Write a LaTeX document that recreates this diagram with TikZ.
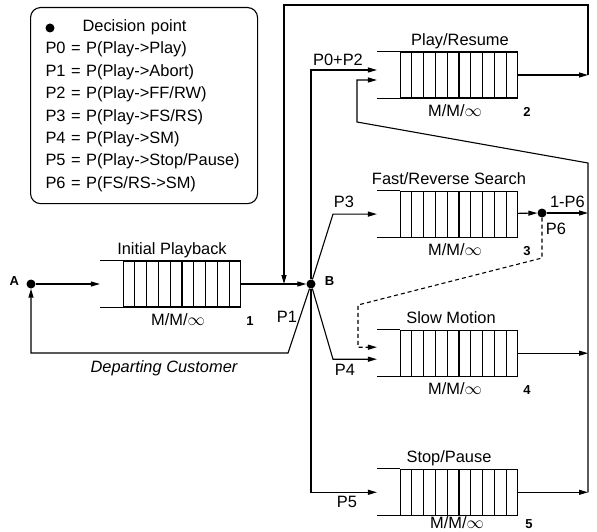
\documentclass[tikz,border=0pt]{standalone}
\usepackage{fontspec}
\setmainfont{Liberation Sans}
\usetikzlibrary{arrows.meta,positioning,calc}
\tikzset{queuebox/.style={draw,line width=1.1pt,minimum width=117pt,minimum height=46pt,inner sep=0pt},
 decpt/.style={circle,fill,inner sep=0pt,minimum size=9pt},
 flowarrow/.style={-{Triangle[length=9pt,width=5pt]},line width=1.1pt},
 lbl/.style={font=\fontsize{16.4}{20}\selectfont,inner sep=0pt},
 qtitle/.style={lbl,anchor=base},
 qnum/.style={font=\bfseries\fontsize{13}{15}\selectfont,inner sep=0pt,anchor=base},
 legendbox/.style={draw,line width=1.1pt,rounded corners=10pt,align=left,text width=197pt,
 inner xsep=15pt,inner ysep=12pt,font=\fontsize{16.4}{22.4}\selectfont}}
\begin{document}
\begin{tikzpicture}[x=1pt,y=-1pt,node distance=92pt]
\useasboundingbox (0,0) rectangle (597,532);
\node[legendbox,anchor=north west] (legend) at (30,7) {\hspace*{37pt}Decision point\\
 P0 = P(Play->Play)\\ P1 = P(Play->Abort)\\ P2 = P(Play->FF/RW)\\ P3 = P(Play->FS/RS)\\
 P4 = P(Play->SM)\\ P5 = P(Play->Stop/Pause)\\ P6 = P(FS/RS->SM)};
\node[decpt] (key) at (50,28) {};
\node[queuebox] (q1) at (182,284) {};
\node[queuebox] (q2) at (459,75) {};
\node[queuebox,below=of q2] (q3) {};
\node[queuebox,below=of q3] (q4) {};
\node[queuebox,below=of q4] (q5) {};
\foreach \q in {q1,q2,q3,q4,q5}{
 \foreach \i in {1,...,9}
  \draw[line width=1.1pt] ($(\q.south west)!\i/10!(\q.south east)$) -- ($(\q.north west)!\i/10!(\q.north east)$);
 \draw[line width=1.1pt] (\q.north west) -- ++(-23pt,0) (\q.south west) -- ++(-23pt,0);
}
\node[qtitle] (t1) at ([xshift=-10pt,yshift=6pt]q1.north) {Initial Playback};
\node[qtitle] (t2) at ([xshift=1pt,yshift=6pt]q2.north) {Play/Resume};
\node[qtitle] (t3) at ([xshift=-10pt,yshift=6pt]q3.north) {Fast/Reverse Search};
\node[qtitle] (t4) at ([xshift=-8pt,yshift=6pt]q4.north) {Slow Motion};
\node[qtitle] (t5) at ([xshift=-10pt,yshift=6pt]q5.north) {Stop/Pause};
\node[qtitle] (m1) at ([xshift=-4pt,yshift=-18pt]q1.south) {M/M/$\infty$};
\node[qtitle] (m2) at ([xshift=-4pt,yshift=-18pt]q2.south) {M/M/$\infty$};
\node[qtitle] (m3) at ([xshift=-4pt,yshift=-18pt]q3.south) {M/M/$\infty$};
\node[qtitle] (m4) at ([xshift=-4pt,yshift=-18pt]q4.south) {M/M/$\infty$};
\node[qtitle] (m5) at ([xshift=-2pt,yshift=-13pt]q5.south) {M/M/$\infty$};
\node[qnum] (n1) at ([xshift=9pt,yshift=-18pt]q1.south east) {1};
\node[qnum] (n2) at ([xshift=9pt,yshift=-18pt]q2.south east) {2};
\node[qnum] (n3) at ([xshift=9pt,yshift=-18pt]q3.south east) {3};
\node[qnum] (n4) at ([xshift=9pt,yshift=-18pt]q4.south east) {4};
\node[qnum] (n5) at ([xshift=11pt,yshift=-13pt]q5.south east) {5};
\node[decpt] (A) at (31,284) {};
\node[decpt] (B) at (311,284) {};
\node[decpt] (C) at (542,213) {};
\node[qnum,anchor=center,left=7pt of A,yshift=3pt] (lA) {A};
\node[qnum,anchor=center,right=9pt of B,yshift=3pt] (lB) {B};
\coordinate (q1in) at ([xshift=-23pt]q1.west);
\coordinate (q2inA) at ([xshift=-23pt,yshift=5pt]q2.west);
\coordinate (q2inB) at ([xshift=-23pt,yshift=-5pt]q2.west);
\coordinate (q3in) at ([xshift=-23pt]q3.west);
\coordinate (q4inA) at ([xshift=-23pt,yshift=6pt]q4.west);
\coordinate (q4inB) at ([xshift=-23pt,yshift=-6pt]q4.west);
\coordinate (q5in) at ([xshift=-23pt]q5.west);
\coordinate (topR) at (588,5);
\coordinate (topL) at (284,5);
\coordinate (busR) at (588,163);
\coordinate (busL) at (357,122);
\coordinate (pk) at (333,0);
\coordinate (p1k) at (288,353);
\coordinate (c1) at (542,258);
\coordinate (c2) at (358,305);
\draw[flowarrow] (A) -- (q1in);
\draw[flowarrow] (q1) -- (B);
\draw[flowarrow] (B) |- (q2inA);
\draw[flowarrow] (B) -- (pk |- q3in) -- (q3in);
\draw[flowarrow] (B) -- (pk |- q4inB) -- (q4inB);
\draw[flowarrow] (B) |- (q5in);
\draw[flowarrow] (B) -- (p1k) -| (A);
\draw[flowarrow] (q2) -- (q2.east -| topR);
\draw[flowarrow] (q2.east -| topR) -- (topR) -- (topL) -- (topL |- B);
\draw[flowarrow] (q3) -- (C);
\draw[flowarrow] (C) -- (C -| topR) node[lbl,midway,above=5pt] (l16) {1-P6};
\draw[flowarrow,dash pattern=on 4pt off 3pt] (C) -- (c1) -- (c2) |- (q4inA);
\draw[flowarrow] (q4) -- (q4.east -| topR);
\draw[flowarrow] (q5) -- (q5.east -| topR);
\draw[flowarrow] (q5.east -| topR) -- (busR) -- (busL) |- (q2inB);
\node[lbl] (lP02) at (338,60) {P0+P2};
\node[lbl] (lP3) at (344,202) {P3};
\node[lbl] (lP4) at (345,370) {P4};
\node[lbl] (lP5) at (347,502) {P5};
\node[lbl] (lP1) at (287,317) {P1};
\node[lbl] (lP6) at (556,229) {P6};
\node[lbl,font=\itshape\fontsize{16.4}{20}\selectfont] (dep) at (164,368) {Departing Customer};
\end{tikzpicture}
\end{document}
